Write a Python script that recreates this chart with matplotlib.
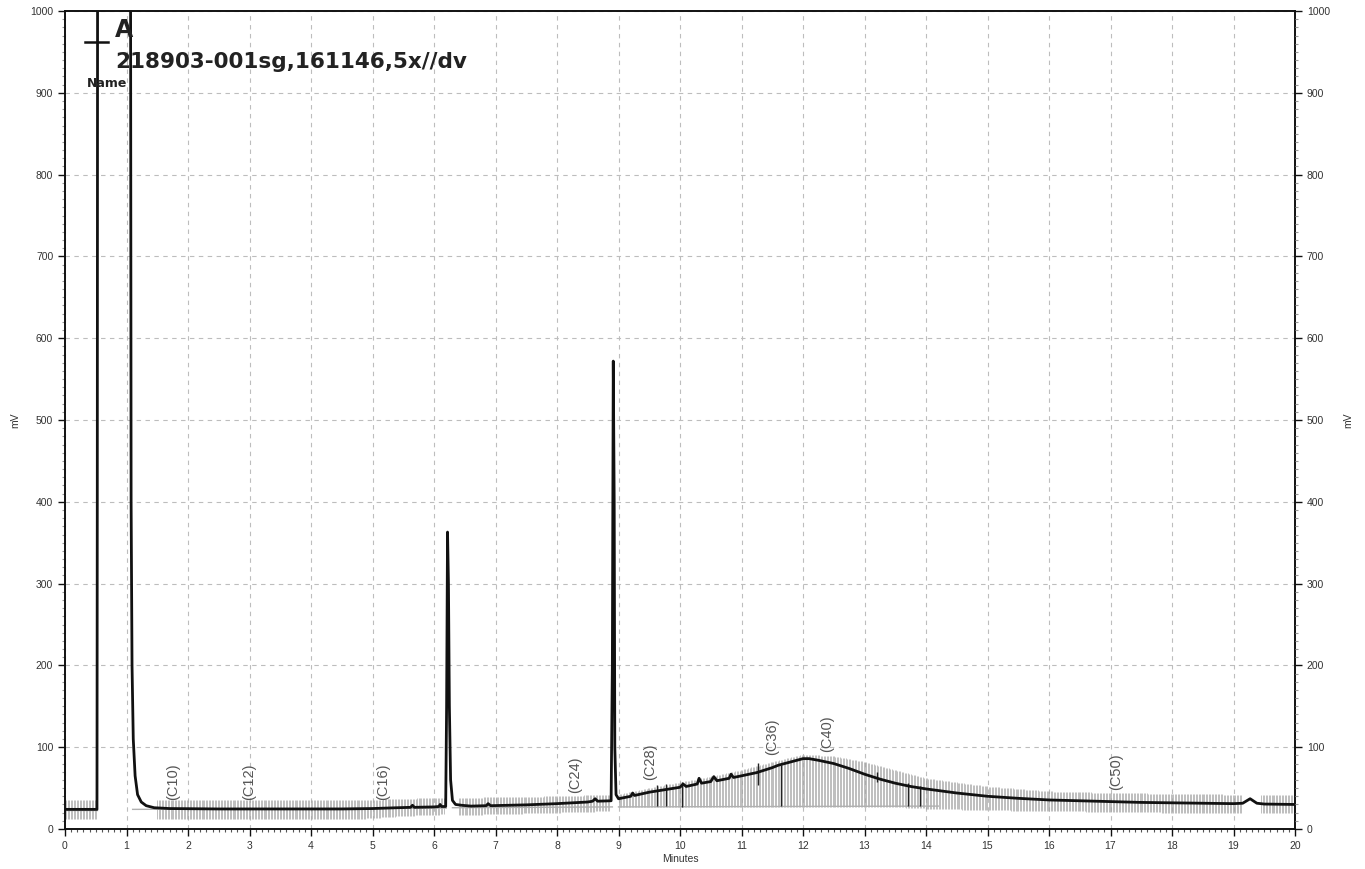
import matplotlib.pyplot as plt
import numpy as np

# chromatogram trace (minutes, mV)
trace_min = [0.0, 0.30, 0.52, 0.525, 0.53, 1.065, 1.075, 1.09, 1.11, 1.14, 1.18, 1.24, 1.32, 1.45, 1.7,
             2.5, 3.5, 4.5, 5.0, 5.4, 5.62, 5.65, 5.68, 6.0, 6.08, 6.10, 6.12, 6.19, 6.205, 6.22, 6.235,
             6.25, 6.27, 6.30, 6.35, 6.45, 6.6, 6.85, 6.88, 6.92, 7.5, 8.0, 8.5, 8.58, 8.62, 8.66, 8.88,
             8.90, 8.915, 8.93, 8.94, 8.96, 9.0, 9.2, 9.23, 9.26, 9.5, 9.75, 10.0, 10.05, 10.1, 10.28,
             10.31, 10.35, 10.5, 10.55, 10.6, 10.8, 10.83, 10.87, 11.0, 11.25, 11.5, 11.6, 11.75, 11.9,
             12.0, 12.1, 12.25, 12.5, 12.75, 13.0, 13.25, 13.5, 13.75, 14.0, 14.5, 15.0, 15.5, 16.0,
             16.5, 17.0, 17.5, 18.0, 18.5, 19.0, 19.15, 19.27, 19.38, 19.5, 20.0]
trace_mv = [24, 24, 24, 400, 1100, 1100, 400, 200, 110, 65, 42, 33, 28.5, 26, 25,
            24.5, 24.5, 24.5, 25, 26, 26.5, 29, 26.5, 27, 27.5, 30, 27.5, 27.5, 150, 363, 300,
            150, 60, 35, 30, 29, 28, 28.5, 31, 28.5, 29.5, 31, 33, 34, 37, 34, 34.5,
            200, 572, 400, 100, 42, 37, 40, 44, 41, 45, 48, 51, 55, 52, 55,
            62, 56, 58, 64, 59, 62, 67, 63, 65, 69, 75, 78, 81, 84,
            86, 86, 84, 80, 74, 67, 61, 56, 52, 49, 44, 40, 37.5, 35.5,
            34.5, 33.5, 32.5, 32, 31.5, 31, 31.5, 37, 31.5, 30.5, 30]

# grey integration hash band: segments and envelope
hash_segments = [(0.0, 0.52), (1.5, 6.18), (6.4, 8.87), (9.0, 19.15), (19.45, 20.0)]
hash_x = [0.0, 0.52, 1.5, 4.75, 5.5, 6.2, 6.4, 8.0, 8.9, 9.0, 9.5, 10.0, 10.5, 11.0, 11.5, 12.0,
          12.5, 13.0, 13.5, 14.0, 15.0, 16.0, 17.0, 18.0, 19.0, 20.0]
hash_lo = [12, 12, 12, 12, 16, 18, 17, 20, 22, 27, 27, 27, 27, 27, 27, 27,
           27, 27, 27, 25, 23, 22, 21, 20, 19, 19]
hash_hi = [35, 35, 35, 35, 37, 38, 38, 40, 42, 42, 50, 57, 64, 72, 82, 91,
           89, 82, 72, 62, 52, 46, 44, 43, 42, 42]

# darker integration marks
dark_min = [9.62, 9.77, 10.04, 11.27, 11.64, 13.2, 13.7, 13.9]
dark_lo = [28, 28, 27, 54, 28, 58, 28, 28]
dark_hi = [54, 55, 57, 81, 78, 70, 56, 52]

# grey baseline segments
base_min = [(0.0, 0.52), (1.1, 6.2), (6.3, 8.9), (9.0, 14.2)]
base_mv = [(23.5, 23.5), (24, 25.5), (26, 27), (27, 28)]

# peak labels
label_text = ['(C10)', '(C12)', '(C16)', '(C24)', '(C28)', '(C36)', '(C40)', '(C50)']
label_min = [1.76, 3.0, 5.17, 8.29, 9.51, 11.5, 12.4, 17.09]
label_mv = [35, 35, 35, 44, 60, 90, 94, 48]

plt.rcParams['font.family'] = ['Liberation Sans', 'DejaVu Sans']

fig = plt.figure(figsize=(13.65, 8.69), dpi=100)
ax = fig.add_axes([65 / 1365, 40 / 869, 1230 / 1365, 818 / 869])

ax.set_xlim(0, 20)
ax.set_ylim(0, 1000)

ax.grid(True, color='#bdbdbd', linestyle=(0, (4, 4)), linewidth=0.8)
ax.set_axisbelow(True)

# hash band
for s, e in hash_segments:
    xs = np.arange(s, e, 0.024)
    lo = np.interp(xs, hash_x, hash_lo)
    hi = np.interp(xs, hash_x, hash_hi)
    ax.vlines(xs, lo, hi, colors='#a4a4a4', linewidth=0.5, zorder=2)

for (s, e), (a, b) in zip(base_min, base_mv):
    ax.plot([s, e], [a, b], color='#b0b0b0', linewidth=1.0, zorder=2)

ax.vlines(dark_min, dark_lo, dark_hi, colors='#222222', linewidth=1.0, zorder=3)

ax.plot(trace_min, trace_mv, color='#111111', linewidth=2.0, zorder=4, solid_joinstyle='round')

for t, x, y in zip(label_text, label_min, label_mv):
    ax.text(x, y, t, rotation=90, ha='center', va='bottom', fontsize=10.5, color='#555555', zorder=5)

# ticks
ax.set_xticks(np.arange(0, 21, 1))
ax.set_xticks(np.arange(0, 20.01, 0.1), minor=True)
ax.set_yticks(np.arange(0, 1001, 100))
ax.set_yticks(np.arange(0, 1001, 10), minor=True)
ax.tick_params(axis='both', which='major', direction='out', length=5, width=1, labelsize=7.5,
               colors='#111111', labelcolor='#333333')
ax.tick_params(axis='both', which='minor', direction='out', length=2.5, width=0.8, colors='#555555')
ax.tick_params(axis='y', which='minor', colors='#999999')

for sp in ax.spines.values():
    sp.set_color('#111111')
    sp.set_linewidth(1.4)

ax2 = ax.twinx()
ax2.set_ylim(0, 1000)
ax2.set_yticks(np.arange(0, 1001, 100))
ax2.set_yticks(np.arange(0, 1001, 10), minor=True)
ax2.tick_params(axis='y', which='major', direction='out', length=5, width=1, labelsize=7.5,
                colors='#111111', labelcolor='#333333')
ax2.tick_params(axis='y', which='minor', direction='out', length=2.5, width=0.8, colors='#999999')
for sp in ax2.spines.values():
    sp.set_visible(False)

ax.set_xlabel('Minutes', fontsize=7.5, color='#333333', labelpad=2)
fig.text(15 / 1365, 1 - 420 / 869, 'mV', rotation=90, fontsize=7.5, color='#333333',
         ha='center', va='center')
fig.text(1348 / 1365, 1 - 420 / 869, 'mV', rotation=90, fontsize=7.5, color='#333333',
         ha='center', va='center')

# header text
fig.text(115 / 1365, 1 - 37 / 869, 'A', fontsize=17, fontweight='bold', color='#222222',
         family='DejaVu Sans', ha='left', va='baseline')
fig.text(115 / 1365, 1 - 68 / 869, '218903-001sg,161146,5x//dv', fontsize=15.5, fontweight='bold',
         color='#222222', family='DejaVu Sans', ha='left', va='baseline')
fig.text(87 / 1365, 1 - 87 / 869, 'Name', fontsize=9, fontweight='bold', color='#222222',
         family='DejaVu Sans', ha='left', va='baseline')
fig.add_artist(plt.Line2D([85 / 1365, 108 / 1365], [1 - 42 / 869, 1 - 42 / 869],
                          color='#111111', linewidth=1.8))

fig.savefig('out.png', dpi=100)
